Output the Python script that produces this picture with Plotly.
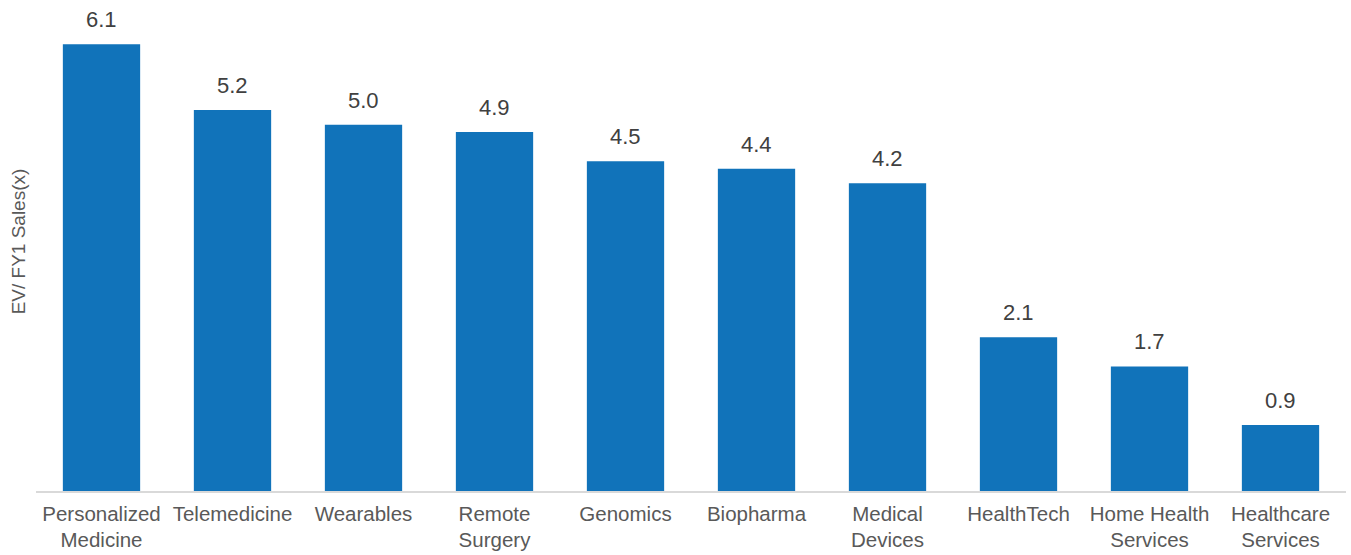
import plotly.graph_objects as go

categories = ["Personalized<br>Medicine", "Telemedicine", "Wearables", "Remote<br>Surgery",
              "Genomics", "Biopharma", "Medical<br>Devices", "HealthTech",
              "Home Health<br>Services", "Healthcare<br>Services"]
values = [6.1, 5.2, 5.0, 4.9, 4.5, 4.4, 4.2, 2.1, 1.7, 0.9]
y_title = "EV/ FY1 Sales(x)"

BAR = "#1173BA"
FONT = "Arial, Liberation Sans, sans-serif"

fig = go.Figure()
fig.add_trace(go.Bar(x=categories, y=values, marker=dict(color=BAR, line=dict(width=0)),
                     hoverinfo="skip"))

for c, v in zip(categories, values):
    fig.add_annotation(x=c, y=v, text=f"{v:.1f}", showarrow=False, yanchor="bottom",
                       yshift=10, font=dict(family=FONT, size=22, color="#404040"))

fig.add_annotation(xref="paper", yref="paper", x=0, y=0.53, xshift=-18, text=y_title,
                   textangle=-90, showarrow=False, xanchor="center", yanchor="middle",
                   font=dict(family=FONT, size=19, color="#595959"))

fig.update_layout(
    width=1351, height=555,
    margin=dict(l=36, r=5, t=20, b=64, autoexpand=False),
    paper_bgcolor="white", plot_bgcolor="white",
    bargap=0.41,
    showlegend=False,
    xaxis=dict(showline=True, linecolor="#D9D9D9", linewidth=2, ticks="",
               tickfont=dict(family=FONT, size=20.5, color="#595959"),
               ticklabelstandoff=3, showgrid=False, automargin=False),
    yaxis=dict(range=[0, 6.43], showticklabels=False, showgrid=False, zeroline=False,
               showline=False, automargin=False),
)

fig.write_html("out.html")
